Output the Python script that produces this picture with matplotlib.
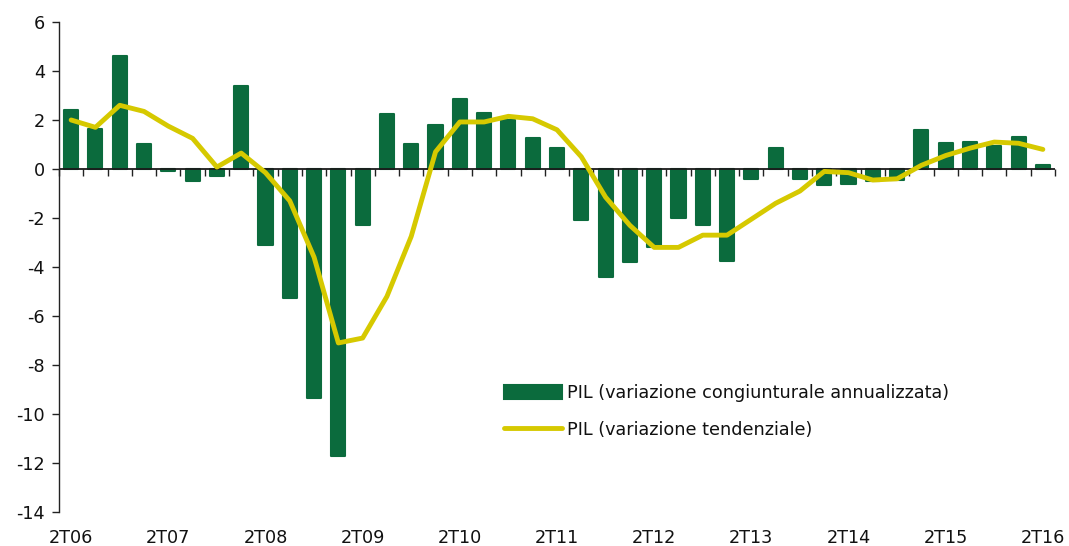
import matplotlib
matplotlib.use("Agg")
import matplotlib.pyplot as plt
import numpy as np

plt.rcParams['font.family'] = ['DejaVu Sans']
plt.rcParams['axes.unicode_minus'] = False

quarters = ['2T06', '3T06', '4T06', '1T07', '2T07', '3T07', '4T07', '1T08',
            '2T08', '3T08', '4T08', '1T09', '2T09', '3T09', '4T09', '1T10',
            '2T10', '3T10', '4T10', '1T11', '2T11', '3T11', '4T11', '1T12',
            '2T12', '3T12', '4T12', '1T13', '2T13', '3T13', '4T13', '1T14',
            '2T14', '3T14', '4T14', '1T15', '2T15', '3T15', '4T15', '1T16',
            '2T16']

pil_congiunturale = [2.4, 1.65, 4.6, 1.0, -0.1, -0.5, -0.3, 3.4,
                     -3.1, -5.25, -9.35, -11.7, -2.3, 2.25, 1.0, 1.8,
                     2.85, 2.3, 2.0, 1.25, 0.85, -2.1, -4.4, -3.8,
                     -3.2, -2.0, -2.3, -3.75, -0.4, 0.85, -0.4, -0.65,
                     -0.6, -0.5, -0.45, 1.6, 1.05, 1.1, 0.95, 1.3,
                     0.15]

pil_tendenziale = [2.0, 1.7, 2.6, 2.35, 1.75, 1.25, 0.08, 0.65,
                   -0.15, -1.3, -3.6, -7.1, -6.9, -5.2, -2.75, 0.7,
                   1.92, 1.92, 2.15, 2.05, 1.6, 0.5, -1.15, -2.3,
                   -3.2, -3.2, -2.7, -2.7, -2.05, -1.4, -0.9, -0.1,
                   -0.15, -0.45, -0.4, 0.15, 0.55, 0.85, 1.1, 1.05,
                   0.8]

tick_labels = ['2T06', '2T07', '2T08', '2T09', '2T10', '2T11',
               '2T12', '2T13', '2T14', '2T15', '2T16']

label_bar = 'PIL (variazione congiunturale annualizzata)'
label_line = 'PIL (variazione tendenziale)'

GREEN = '#0B6B3D'
YELLOW = '#D6C900'
FS = 12.7

fig = plt.figure(figsize=(10.69, 5.46), dpi=100)
ax = fig.add_axes([59/1069, 1-512/546, (1055-59)/1069, (512-22)/546])

x = np.arange(len(quarters))
bars = ax.bar(x, pil_congiunturale, width=0.58, color=GREEN, edgecolor=GREEN,
              linewidth=1.5, joinstyle='round', label=label_bar, zorder=2)
ax.axhline(0, color='#1a1a1a', linewidth=1.3, zorder=2.5)
line, = ax.plot(x, pil_tendenziale, color=YELLOW, linewidth=3.5,
                solid_joinstyle='round', solid_capstyle='round',
                label=label_line, zorder=3)

ax.set_xlim(-0.5, len(quarters) - 0.5)
ax.set_ylim(-14, 6)
ax.set_yticks(np.arange(-14, 7, 2))
ax.tick_params(axis='y', direction='out', length=5, width=1, colors='#222222',
               labelsize=FS, pad=5)
for lab in ax.get_yticklabels():
    lab.set_color('#111111')

# x labels at bottom, no tick marks
tick_pos = [quarters.index(t) for t in tick_labels]
ax.set_xticks(tick_pos)
ax.set_xticklabels(tick_labels)
ax.tick_params(axis='x', length=0, labelsize=FS, pad=12, labelcolor='#111111')

for s in ['top', 'right', 'bottom']:
    ax.spines[s].set_visible(False)
ax.spines['left'].set_color('#222222')
ax.spines['left'].set_linewidth(1.0)

# category boundary ticks on the zero axis, pointing down
sec = ax.secondary_xaxis(14/20)
sec.set_xticks(np.arange(-0.5, len(quarters), 1.0))
sec.set_xticklabels([])
sec.tick_params(axis='x', direction='in', length=5, width=1, colors='#222222')
sec.spines['bottom'].set_visible(False)
sec.spines['top'].set_visible(False)

leg = ax.legend(handles=[bars, line], labels=[label_bar, label_line],
                loc='upper left', bbox_to_anchor=(504/1069, 1-384/546),
                bbox_transform=fig.transFigure, frameon=False, fontsize=FS,
                handlelength=3.3, handleheight=0.85, handletextpad=0.25,
                labelspacing=1.05, borderpad=0, borderaxespad=0)
for t in leg.get_texts():
    t.set_color('#111111')

fig.savefig('out.png', dpi=100)
